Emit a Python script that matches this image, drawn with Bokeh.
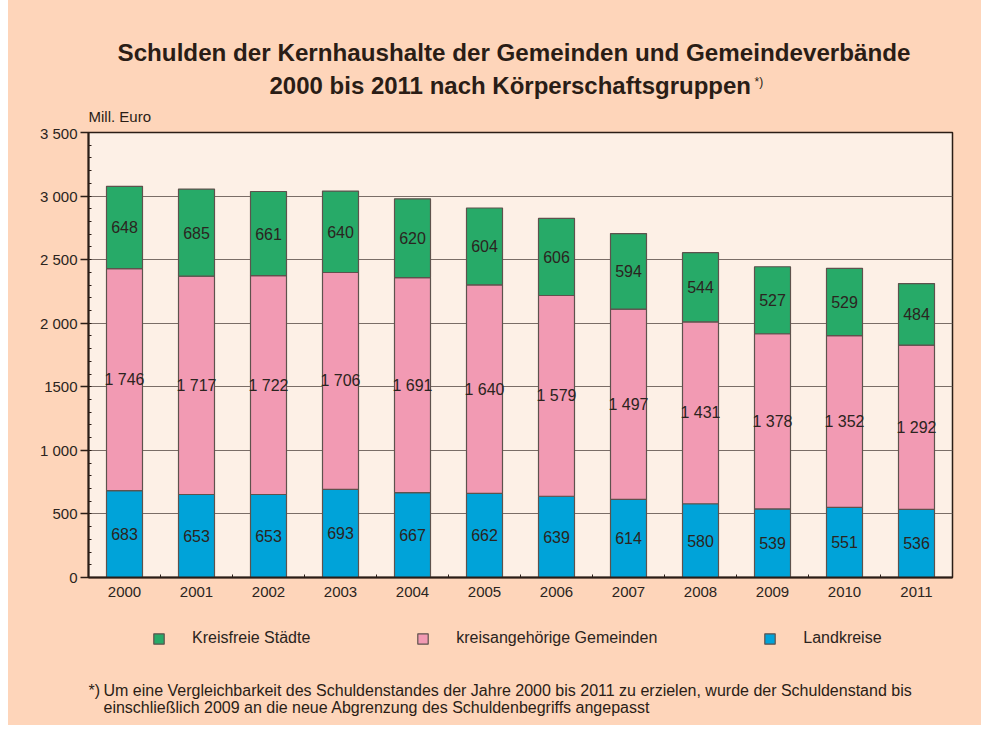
from bokeh.plotting import figure
from bokeh.models import (Range1d, FixedTicker, Label, Legend, LegendItem,
                          ColumnDataSource, Spacer)
from bokeh.layouts import row, column
from bokeh.embed import file_html
from bokeh.resources import INLINE
from bokeh.core.properties import value

# ---------------- data ----------------
years = ["2000", "2001", "2002", "2003", "2004", "2005",
         "2006", "2007", "2008", "2009", "2010", "2011"]
landkreise = [683, 653, 653, 693, 667, 662, 639, 614, 580, 539, 551, 536]
kreisangehoerige = [1746, 1717, 1722, 1706, 1691, 1640, 1579, 1497, 1431, 1378, 1352, 1292]
kreisfreie = [648, 685, 661, 640, 620, 604, 606, 594, 544, 527, 529, 484]
series_names = ["Kreisfreie Städte", "kreisangehörige Gemeinden", "Landkreise"]
y_ticks = [0, 500, 1000, 1500, 2000, 2500, 3000, 3500]
y_tick_labels = ["0", "500", "1 000", "1500", "2 000", "2 500", "3 000", "3 500"]
title_line1 = "Schulden der Kernhaushalte der Gemeinden und Gemeindeverbände"
title_line2 = "2000 bis 2011 nach Körperschaftsgruppen"
title_mark = "*)"
unit_label = "Mill. Euro"
footnote_mark = "*)"
footnote_line1 = ("Um eine Vergleichbarkeit des Schuldenstandes der Jahre 2000 bis 2011 "
                  "zu erzielen, wurde der Schuldenstand bis")
footnote_line2 = "einschließlich 2009 an die neue Abgrenzung des Schuldenbegriffs angepasst"

# ---------------- style ----------------
FONT = "Liberation Sans"
PEACH = "#FED5BA"
PLOT_BG = "#FDF0E6"
GREEN = "#27AA68"
PINK = "#F29AB3"
BLUE = "#00A3D9"
DARK = "#2a1d16"
TEXT = "#2b2420"
BAR_LINE = "#5e524d"
W = 973
LEFT, RIGHT = 80, 29

n = len(years)
xs = list(range(n))


def text_figure(h):
    f = figure(width=W, height=h, output_backend="svg", toolbar_location=None,
               x_range=Range1d(0, W - LEFT - RIGHT), y_range=Range1d(0, h),
               min_border_left=LEFT, min_border_right=RIGHT,
               min_border_top=0, min_border_bottom=0,
               x_axis_location=None, y_axis_location=None)
    f.background_fill_alpha = 0
    f.border_fill_color = PEACH
    f.outline_line_color = None
    f.grid.visible = False
    return f


def label(f, x, y, text, size, bold=False):
    f.add_layout(Label(x=x, y=y, x_units="screen", y_units="screen", text=text,
                       text_font=FONT, text_font_size=size,
                       text_font_style="bold" if bold else "normal",
                       text_align="left", text_baseline="alphabetic", text_color=DARK))


# ---------------- title strip ----------------
top = text_figure(115)
label(top, 29, 72, title_line1, "24.2px", bold=True)
label(top, 181, 39, title_line2, "24px", bold=True)
label(top, 666, 43, title_mark, "12px")
label(top, 0, 8, unit_label, "15px")

# ---------------- main chart ----------------
p = figure(width=W, height=486, output_backend="svg", toolbar_location=None,
           x_range=Range1d(-0.5, n - 0.5), y_range=Range1d(0, 3500),
           min_border_left=LEFT, min_border_right=RIGHT, min_border_top=8,
           min_border_bottom=33)
p.background_fill_color = PLOT_BG
p.border_fill_color = PEACH
p.outline_line_color = DARK
p.outline_line_width = 1.5

p.xaxis.ticker = FixedTicker(ticks=xs, minor_ticks=[i + 0.5 for i in xs[:-1]])
p.xaxis.major_label_overrides = {i: y for i, y in zip(xs, years)}
p.xaxis.major_tick_in = 0
p.xaxis.major_tick_out = 0
p.xaxis.minor_tick_in = 3
p.xaxis.minor_tick_out = 0
p.xaxis.major_label_standoff = 9
p.yaxis.ticker = FixedTicker(ticks=y_ticks, minor_ticks=list(range(0, 3501, 100)))
p.yaxis.major_label_overrides = {t: l for t, l in zip(y_ticks, y_tick_labels)}
p.yaxis.major_tick_in = 0
p.yaxis.major_tick_out = 8
p.yaxis.minor_tick_in = 3
p.yaxis.minor_tick_out = 0
p.yaxis.major_label_standoff = 3
for ax in (p.xaxis, p.yaxis):
    ax.axis_line_color = DARK
    ax.axis_line_width = 2
    ax.major_tick_line_color = DARK
    ax.major_tick_line_width = 1.5
    ax.minor_tick_line_color = DARK
    ax.minor_tick_line_width = 1
    ax.major_label_text_font = FONT
    ax.major_label_text_font_size = "15px"
    ax.major_label_text_color = TEXT

p.xgrid.visible = False
p.ygrid.grid_line_color = "#7a6d67"
p.ygrid.grid_line_width = 1.2

src = ColumnDataSource(dict(x=xs, lk=landkreise, kg=kreisangehoerige, kf=kreisfreie))
colors = [BLUE, PINK, GREEN]
rs = p.vbar_stack(["lk", "kg", "kf"], x="x", width=0.5, source=src,
                  fill_color=colors, line_color=BAR_LINE, line_width=1.2)


def fmt(v):
    return f"{v:,}".replace(",", " ")


lab_x, lab_y, lab_t = [], [], []
for i in xs:
    base = 0
    for series in (landkreise, kreisangehoerige, kreisfreie):
        v = series[i]
        lab_x.append(i)
        lab_y.append(base + v / 2)
        lab_t.append(fmt(v))
        base += v
p.text(x=lab_x, y=lab_y, text=lab_t, text_font=value(FONT), text_font_size="16px",
       text_align="center", text_baseline="middle", text_color=TEXT)

# ---------------- legend + footnote strip ----------------
bot = text_figure(115)
# hidden proxies (same data and styles) that give the legend its swatches
proxies = [bot.vbar(x=xs, top=series, width=0.5, fill_color=c, line_color=BAR_LINE,
                    line_width=1.2, visible=False)
           for series, c in zip((kreisfreie, kreisangehoerige, landkreise),
                                (GREEN, PINK, BLUE))]
legend = Legend(items=[LegendItem(label=name, renderers=[r])
                       for name, r in zip(series_names, proxies)],
                location=(64, 78), orientation="horizontal",
                padding=0, margin=0, spacing=106, glyph_width=13, glyph_height=13,
                label_standoff=27, label_height=13, label_text_font=FONT,
                label_text_font_size="16px", label_text_color=TEXT,
                background_fill_alpha=0, border_line_color=None,
                inactive_fill_alpha=0)
bot.add_layout(legend)
label(bot, 0, 35, footnote_mark, "16px")
label(bot, 15, 35, footnote_line1, "16px")
label(bot, 15, 18, footnote_line2, "16px")

layout = row(Spacer(width=8, height=725),
             column(Spacer(width=W, height=9), top, p, bot,
                    styles={"background-color": PEACH}))

open("out.html", "w").write(file_html(layout, INLINE))
